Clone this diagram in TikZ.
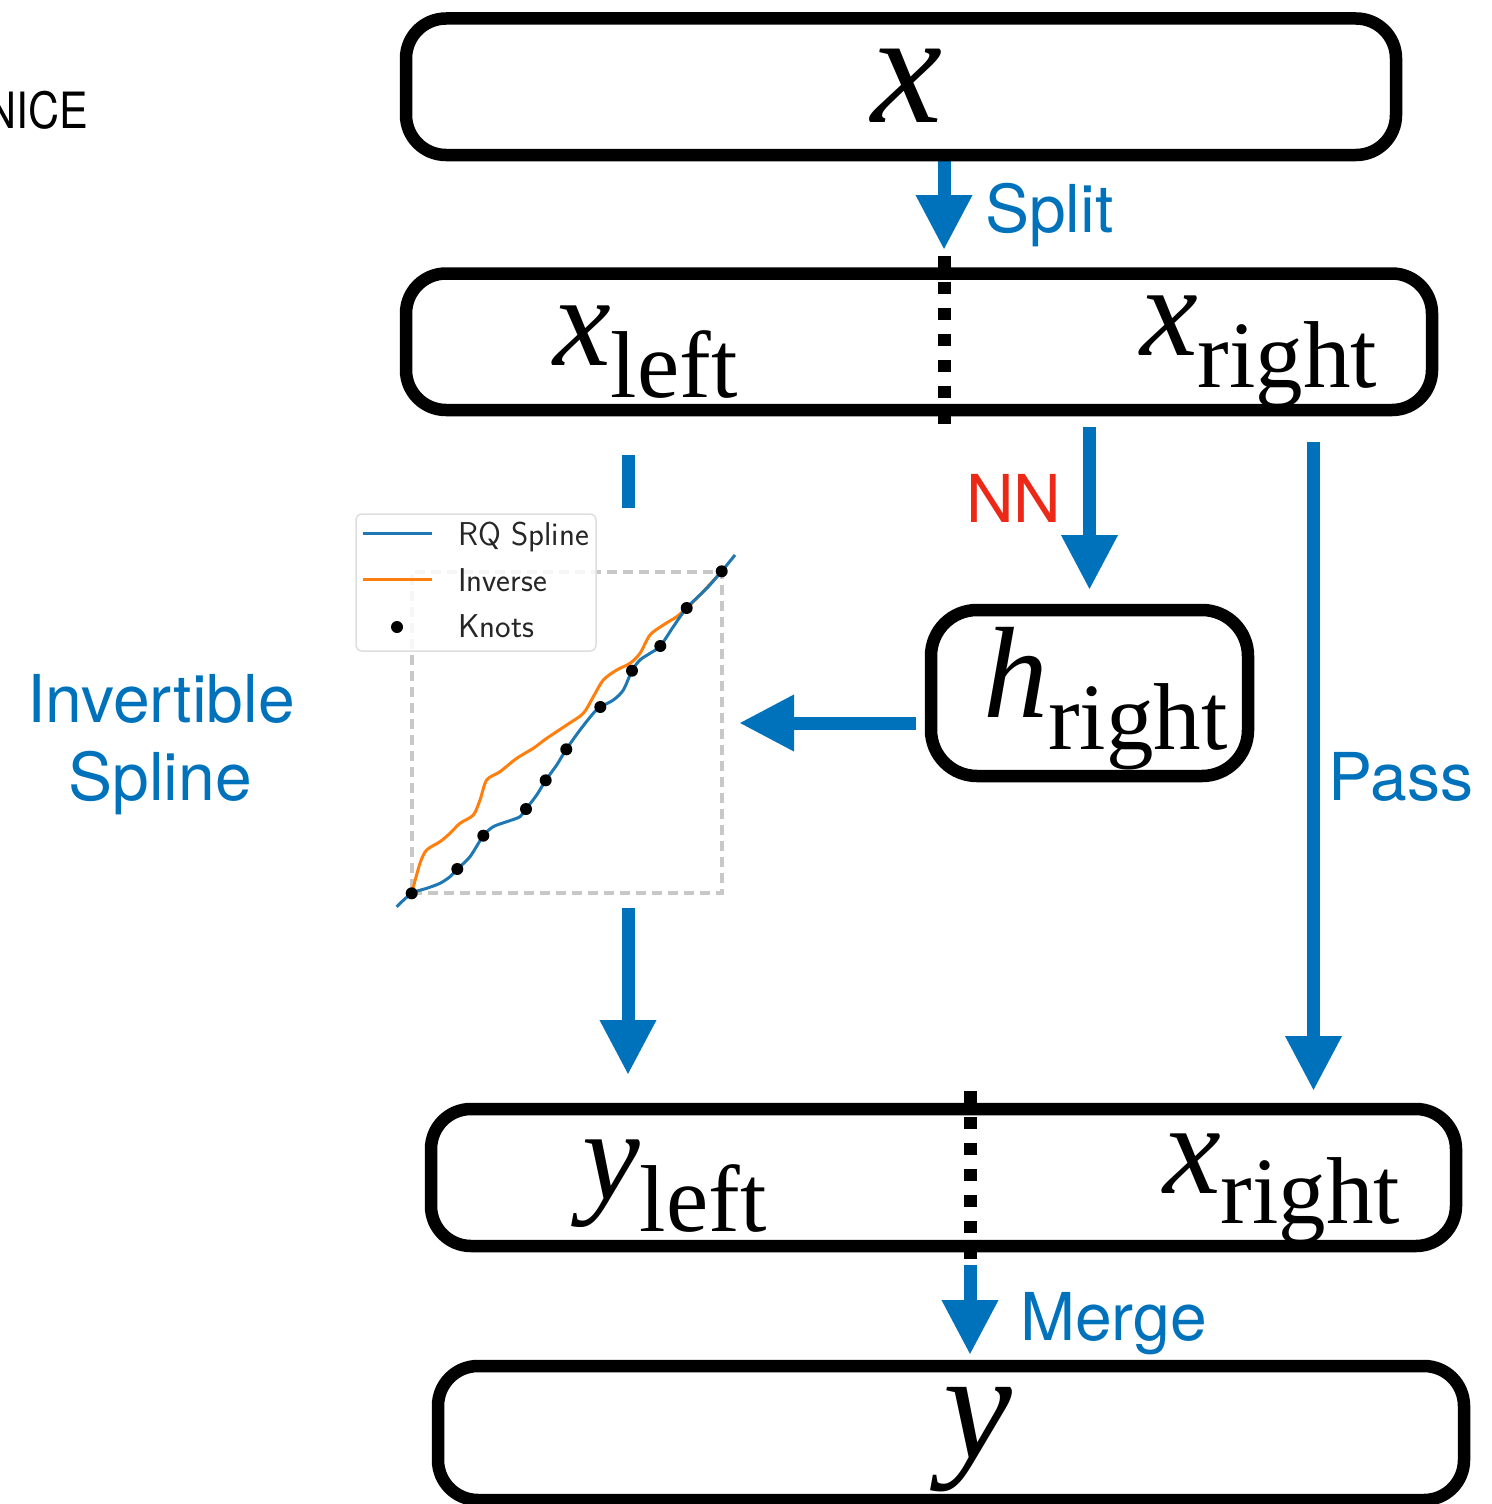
\documentclass[tikz,border=0pt]{standalone}
\usepackage{fontspec}
\setmainfont{Liberation Serif}
\newfontfamily\helv{TeX Gyre Heros}
\usetikzlibrary{arrows.meta,backgrounds}
\definecolor{myblue}{RGB}{0,114,187}
\definecolor{nnred}{RGB}{236,40,22}
\definecolor{plotblue}{RGB}{31,119,180}
\definecolor{plotorange}{RGB}{255,127,14}
\definecolor{gridgray}{RGB}{200,200,200}
\definecolor{leggray}{RGB}{222,222,222}
\newcommand{\mysub}[1]{\raisebox{-32pt}{\upshape\fontsize{95}{95}\selectfont #1}}
\begin{document}
\begin{tikzpicture}[x=1pt,y=-1pt,
  box/.style={draw=black, line width=12.5pt, rounded corners=40pt, inner sep=0pt, outer sep=0pt},
  divider/.style={draw=black, line width=13pt, dash pattern=on 12pt off 14pt},
  flow/.style={draw=myblue, line width=13pt, -{Triangle[width=53pt,length=55pt]}},
  lbl/.style={font={\helv\fontsize{66}{66}\selectfont}, text=myblue, inner sep=0pt},
  mth/.style={inner sep=0pt, font={\fontsize{130}{130}\selectfont}},
  legtxt/.style={inner sep=0pt, font={\sffamily\fontsize{33}{33}\selectfont}, text=black!85}]
\useasboundingbox (0,0) rectangle (1491,1504);
\clip (0,0) rectangle (1491,1504);

% boxes
\node[box, minimum width=990pt, minimum height=136.5pt] (bx) at (901,86.75) {};
\node[box, minimum width=1026pt, minimum height=136.5pt] (bs) at (919,341.75) {};
\node[box, rounded corners=46pt, minimum width=317pt, minimum height=166pt] (hb) at (1089.5,693) {};
\node[box, minimum width=1025pt, minimum height=137pt] (by) at (943.5,1177.5) {};
\node[box, minimum width=1026pt, minimum height=134pt] (byy) at (951,1433) {};

% dividers
\coordinate (d1t) at (944,256);
\coordinate (d1b) at (944,428);
\coordinate (d2t) at (970,1091);
\coordinate (d2b) at (970,1263);
\draw[divider] (d1t) -- (d1b);
\draw[divider] (d2t) -- (d2b);

% plot
\node[draw=gridgray, line width=3.5pt, dash pattern=on 10pt off 6pt, inner sep=0pt, outer sep=0pt,
      minimum width=310pt, minimum height=321pt] (frame) at (567,732.5) {};
\draw[plotorange, line width=3pt, line join=round] plot[smooth, tension=0.5] coordinates {
 (411.7,893.3) (420,863.3) (426.7,850) (440,841.7) (450,833.3) (460,823.3) (473.3,815)
 (480,800) (486.7,780) (500,771.7) (516.7,758.3) (533.3,748.3) (546.7,738.3) (566.7,725)
 (583.3,713.3) (593.3,696.7) (603.3,680) (616.7,670) (630,663.3) (640,653.3) (650,635)
 (663.3,625) (676.7,616.7) (686.7,608) (700,595) (721.7,571.3)};
\draw[plotblue, line width=3pt, line join=round] plot[smooth, tension=0.5] coordinates {
 (396.7,906.7) (411.7,893.3) (426.7,888.3) (440,883.3) (450,876.7) (457.3,869) (470,856.7)
 (483.3,835.7) (493.3,826.7) (506.7,821.7) (520,816.7) (526,809) (536.7,795) (545.7,780.3)
 (556.7,765) (566.3,749.3) (580,730) (593.3,713.3) (600.3,707) (613.3,700) (623.3,690)
 (632,670.7) (640,660) (650,653.3) (660.3,646) (673.3,626.7) (686.7,608) (706.7,588.3)
 (721.7,571.3) (735,555)};
\foreach \p in {(411.7,893.3),(457.3,869),(483.3,835.7),(526,809),(545.7,780.3),(566.3,749.3),
  (600.3,707),(632,670.7),(660.3,646),(686.7,608),(721.7,571.3)}
  \fill[black] \p circle (6pt);

% legend
\node[draw=leggray, fill=white, fill opacity=0.85, rounded corners=6pt, line width=1.5pt,
      inner sep=0pt, outer sep=0pt, minimum width=240pt, minimum height=137pt] (legend) at (476,582.5) {};
\draw[plotblue, line width=3pt] (363,533) -- (432,533);
\draw[plotorange, line width=3pt] (363,579) -- (432,579);
\fill[black] (397,627) circle (6pt);
\node[legtxt, anchor=base west] (lg1) at (458,545) {RQ Spline};
\node[legtxt, anchor=base west] (lg2) at (458,591) {Inverse};
\node[legtxt, anchor=base west] (lg3) at (458,637) {Knots};

% arrows (behind boxes)
\coordinate (px) at (1313.5,0);
\coordinate (ly) at (0,723);
\coordinate (xl) at (628,0);
\coordinate (stubA) at (628,455);
\coordinate (stubB) at (628,508);
\begin{scope}[on background layer]
\draw[flow, shorten >=23.5pt] (bx.south -| d1t) -- (bs.north -| d1t);
\draw[flow, shorten <=17pt, shorten >=20pt] (bs.south -| hb.north) -- (hb.north);
\draw[flow, shorten <=32pt, shorten >=18pt] (bs.south -| px) -- (by.north -| px);
\draw[flow, shorten <=15pt, shorten >=17pt] (hb.west |- ly) -- (frame.east |- ly);
\draw[draw=myblue, line width=13pt] (stubA) -- (stubB);
\draw[flow, shorten <=15pt, shorten >=34pt] (frame.south -| xl) -- (by.north -| xl);
\draw[flow, shorten <=19pt, shorten >=11pt] (by.south -| d2t) -- (byy.north -| d2t);
\end{scope}

% math labels
\node[mth, font={\fontsize{160}{160}\selectfont}, anchor=base west] (tx) at (871,122) {\itshape x};
\node[mth, anchor=base west] (txl) at (553,365) {\itshape x\mysub{left}};
\node[mth, anchor=base west] (txr) at (1140,355) {\itshape x\mysub{right}};
\node[mth, anchor=base west] (th) at (983,717) {\itshape h\mysub{right}};
\node[mth, anchor=base west] (tyl) at (582,1199) {\itshape y\mysub{left}};
\node[mth, anchor=base west] (tyr) at (1163,1193) {\itshape x\raisebox{-30pt}{\upshape\fontsize{95}{95}\selectfont right}};
\node[mth, font={\fontsize{155}{155}\selectfont}, anchor=base west] (ty) at (943,1458) {\itshape y};

% text labels
\node[lbl, anchor=base west] (split) at (985,232) {Split};
\node[lbl, anchor=base west, text=nnred] (nn) at (966,522) {NN};
\node[lbl, anchor=base west] (pass) at (1328,800) {Pass};
\node[lbl, anchor=base west] (merge) at (1020,1340) {Merge};
\node[lbl, anchor=base] (inv1) at (161,722) {Invertible};
\node[lbl, anchor=base] (inv2) at (160,800) {Spline};
\node[inner sep=0pt, font={\helv\fontsize{50}{50}\selectfont}, anchor=base east] (nice) at (88,128) {\scalebox{0.86}[1]{NICE}};
\end{tikzpicture}
\end{document}
